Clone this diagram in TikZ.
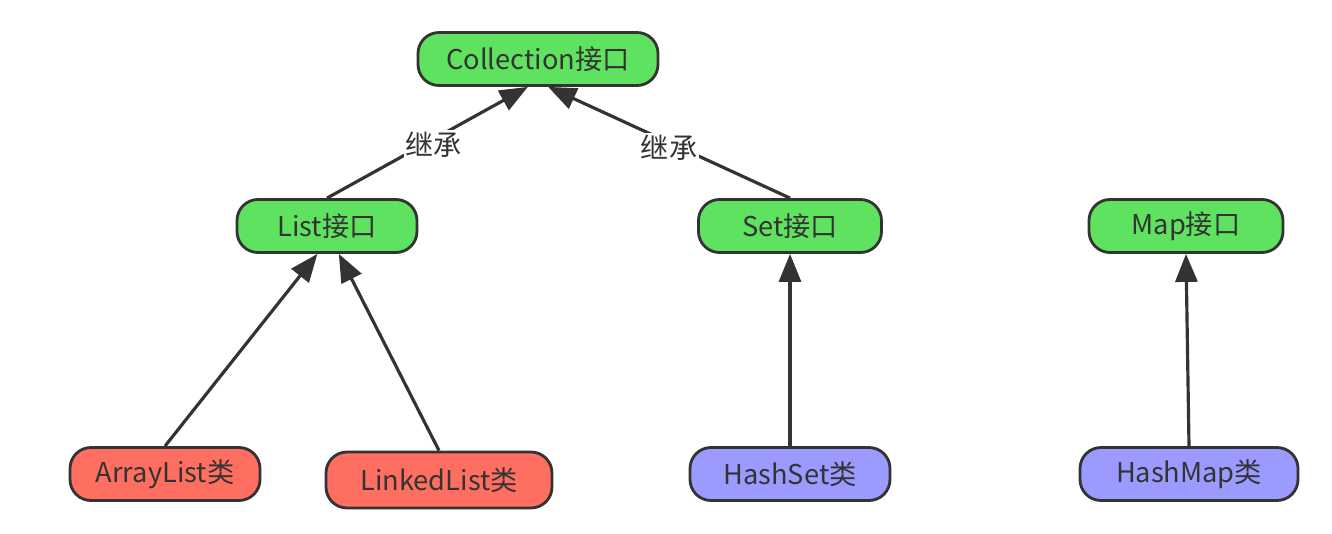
\documentclass[tikz,border=0pt]{standalone}
\usepackage{fontspec}
\newfontfamily\cjk{Noto Sans CJK SC}
\usetikzlibrary{arrows.meta}
\definecolor{iface}{HTML}{5FE25F}
\definecolor{listcls}{HTML}{FF6F61}
\definecolor{hashcls}{HTML}{9A9AFF}
\definecolor{ink}{HTML}{333333}

\begin{document}
\begin{tikzpicture}[
  every node/.style={font=\cjk\fontsize{15.5}{18}\selectfont,text=ink},
  box/.style={draw=ink,line width=1.6pt,rounded corners=0.42cm,minimum height=1.06cm,inner sep=2pt},
  iface/.style={box,fill=iface},
  listcls/.style={box,fill=listcls},
  hashcls/.style={box,fill=hashcls},
  to/.style={-{Triangle[length=0.56cm,width=0.44cm]},draw=ink,fill=ink,line width=1.8pt},
  tag/.style={fill=white,inner sep=1pt,yshift=-0.1cm,font=\cjk\fontsize{16}{18}\selectfont}]

    \useasboundingbox (0,0) rectangle (26.64,-10.68);

    % interfaces
    \node[iface,minimum width=4.8cm](coll) at (10.76,-1.18){Collection接口};
    \node[iface,minimum width=3.6cm](list) at (6.54,-4.52){List接口};
    \node[iface,minimum width=3.66cm](set) at (15.8,-4.52){Set接口};
    \node[iface,minimum width=3.88cm](map) at (23.72,-4.52){Map接口};

    % classes
    \node[listcls,minimum width=3.8cm](arr) at (3.3,-9.48){ArrayList类};
    \node[listcls,minimum width=4.52cm,minimum height=1.12cm](linked) at (8.78,-9.6){LinkedList类};
    \node[hashcls,minimum width=4.0cm](hset) at (15.8,-9.48){HashSet类};
    \node[hashcls,minimum width=4.36cm](hmap) at (23.78,-9.48){HashMap类};

    \draw[to](list.north) -- node[tag,pos=0.53]{继承} (coll.-110);
    \draw[to](set.north) -- node[tag,pos=0.5]{继承} (coll.-70);
    \draw[to](arr.north) -- (list.-109);
    \draw[to](linked.north) -- (list.-67);
    \draw[to](hset.north) -- (set.south);
    \draw[to](hmap.north) -- (map.south);
\end{tikzpicture}
\end{document}
